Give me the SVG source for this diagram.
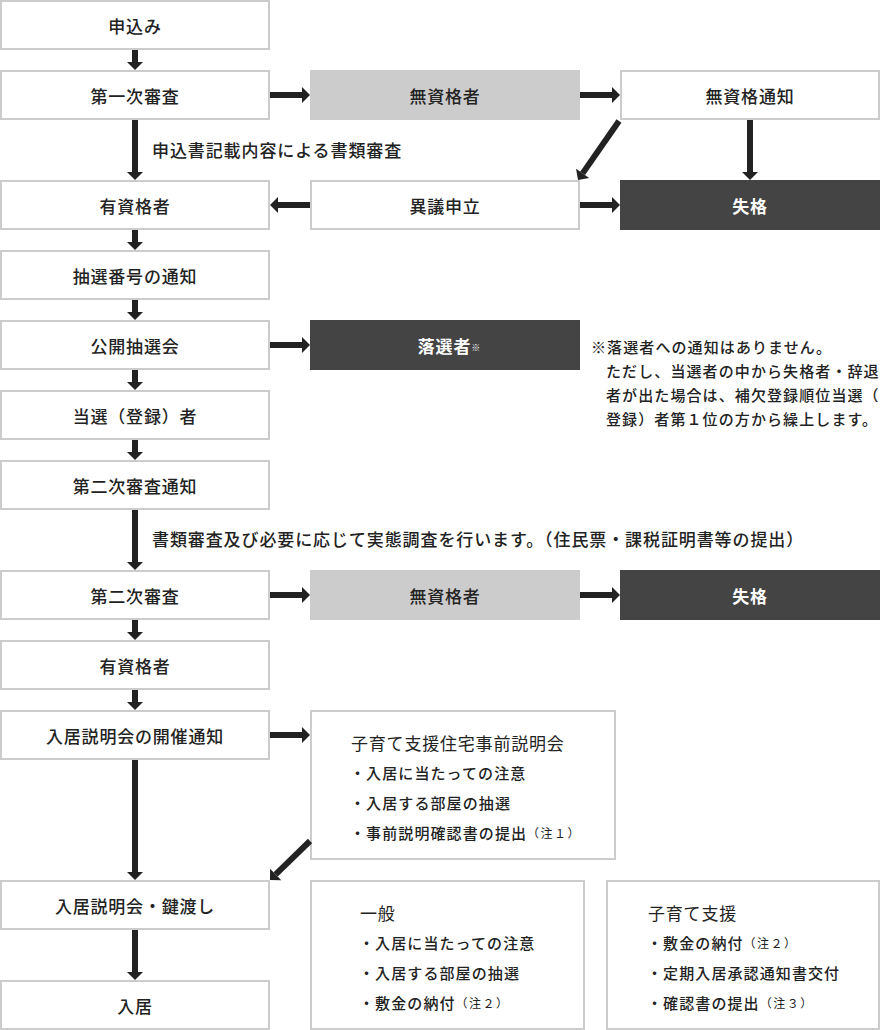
<svg xmlns="http://www.w3.org/2000/svg" width="880" height="1030" viewBox="0 0 880 1030">
<style>
text{font-family:"Noto Sans CJK JP","Noto Sans",sans-serif;fill:#222;}
.box{fill:#fff;stroke:#ccc;stroke-width:2;}
.gray{fill:#ccc;}
.dark{fill:#444;}
.lbl{font-size:17px;font-weight:500;letter-spacing:0.8px;text-anchor:middle;dominant-baseline:central;}
.wlbl{font-size:17px;font-weight:700;letter-spacing:0.8px;text-anchor:middle;dominant-baseline:central;fill:#fff;}
.note{font-size:17px;font-weight:500;letter-spacing:0.9px;dominant-baseline:central;}
.small{font-size:15px;font-weight:500;letter-spacing:1.1px;dominant-baseline:central;}
.ttl{font-size:17px;font-weight:400;letter-spacing:0.8px;dominant-baseline:central;}
.sup{font-size:12px;letter-spacing:1.5px;font-weight:400;}
.arr{stroke:#222;stroke-width:6;fill:none;marker-end:url(#ah);}
</style>
<defs>
<marker id="ah" markerUnits="userSpaceOnUse" viewBox="0 -8 8 16" refX="0" refY="0" markerWidth="8" markerHeight="16" orient="auto" overflow="visible">
<path d="M0,-8 L8,0 L0,8 Z" fill="#222"/>
</marker>
</defs>

<g id="n1"><rect class="box" x="1" y="1" width="268" height="48"/><text class="lbl" x="135" y="25">申込み</text></g>
<g id="n2"><rect class="box" x="1" y="71" width="268" height="48"/><text class="lbl" x="135" y="95">第一次審査</text></g>
<g id="n3"><rect class="box" x="1" y="181" width="268" height="48"/><text class="lbl" x="135" y="205">有資格者</text></g>
<g id="n4"><rect class="box" x="1" y="251" width="268" height="48"/><text class="lbl" x="135" y="275">抽選番号の通知</text></g>
<g id="n5"><rect class="box" x="1" y="321" width="268" height="48"/><text class="lbl" x="135" y="345">公開抽選会</text></g>
<g id="n6"><rect class="box" x="1" y="391" width="268" height="48"/><text class="lbl" x="135" y="415">当選（登録）者</text></g>
<g id="n7"><rect class="box" x="1" y="461" width="268" height="48"/><text class="lbl" x="135" y="485">第二次審査通知</text></g>
<g id="n8"><rect class="box" x="1" y="571" width="268" height="48"/><text class="lbl" x="135" y="595">第二次審査</text></g>
<g id="n9"><rect class="box" x="1" y="641" width="268" height="48"/><text class="lbl" x="135" y="665">有資格者</text></g>
<g id="n10"><rect class="box" x="1" y="711" width="268" height="48"/><text class="lbl" x="135" y="735">入居説明会の開催通知</text></g>
<g id="n11"><rect class="box" x="1" y="881" width="268" height="48"/><text class="lbl" x="135" y="905">入居説明会・鍵渡し</text></g>
<g id="n12"><rect class="box" x="1" y="981" width="268" height="48"/><text class="lbl" x="135" y="1005">入居</text></g>

<g id="m1"><rect class="gray" x="310" y="70" width="270" height="50"/><text class="lbl" x="445" y="95">無資格者</text></g>
<g id="m2"><rect class="box" x="311" y="181" width="268" height="48"/><text class="lbl" x="445" y="205">異議申立</text></g>
<g id="m3"><rect class="dark" x="310" y="320" width="270" height="50"/><text class="wlbl" x="449" y="345">落選者<tspan font-size="9px" font-weight="400" letter-spacing="0" dy="2">※</tspan></text></g>
<g id="m4"><rect class="gray" x="310" y="570" width="270" height="50"/><text class="lbl" x="445" y="595">無資格者</text></g>

<g id="r1"><rect class="box" x="621" y="71" width="258" height="48"/><text class="lbl" x="750" y="95">無資格通知</text></g>
<g id="r2"><rect class="dark" x="620" y="180" width="260" height="50"/><text class="wlbl" x="750" y="205">失格</text></g>
<g id="r3"><rect class="dark" x="620" y="570" width="260" height="50"/><text class="wlbl" x="750" y="595">失格</text></g>

<g id="note">
<text class="small" x="591" y="346">※落選者への通知はありません。</text>
<text class="small" x="606" y="370">ただし、当選者の中から失格者・辞退</text>
<text class="small" x="606" y="394">者が出た場合は、補欠登録順位当選（</text>
<text class="small" x="606" y="418">登録）者第１位の方から繰上します。</text>
</g>

<g id="b1"><rect class="box" x="311" y="711" width="304" height="148"/>
<text class="ttl" x="351" y="742">子育て支援住宅事前説明会</text>
<text class="small" x="350" y="772">・入居に当たっての注意</text>
<text class="small" x="350" y="802">・入居する部屋の抽選</text>
<text class="small" x="350" y="832">・事前説明確認書の提出<tspan class="sup">（注１）</tspan></text>
</g>
<g id="b2"><rect class="box" x="311" y="881" width="273" height="148"/>
<text class="ttl" x="360" y="912">一般</text>
<text class="small" x="359" y="942">・入居に当たっての注意</text>
<text class="small" x="359" y="972">・入居する部屋の抽選</text>
<text class="small" x="359" y="1002">・敷金の納付<tspan class="sup">（注２）</tspan></text>
</g>
<g id="b3"><rect class="box" x="607" y="881" width="272" height="148"/>
<text class="ttl" x="648" y="912">子育て支援</text>
<text class="small" x="647" y="942">・敷金の納付<tspan class="sup">（注２）</tspan></text>
<text class="small" x="647" y="972">・定期入居承認通知書交付</text>
<text class="small" x="647" y="1002">・確認書の提出<tspan class="sup">（注３）</tspan></text>
</g>

<g id="labels">
<text class="note" x="152" y="149">申込書記載内容による書類審査</text>
<text class="note" x="152" y="538">書類審査及び必要に応じて実態調査を行います。（住民票・課税証明書等の提出）</text>
</g>

<g id="connectors">
<line class="arr" x1="135" y1="50" x2="135" y2="62"/>
<line class="arr" x1="135" y1="120" x2="135" y2="172"/>
<line class="arr" x1="135" y1="230" x2="135" y2="242"/>
<line class="arr" x1="135" y1="300" x2="135" y2="312"/>
<line class="arr" x1="135" y1="370" x2="135" y2="382"/>
<line class="arr" x1="135" y1="440" x2="135" y2="452"/>
<line class="arr" x1="135" y1="510" x2="135" y2="562"/>
<line class="arr" x1="135" y1="620" x2="135" y2="632"/>
<line class="arr" x1="135" y1="690" x2="135" y2="702"/>
<line class="arr" x1="135" y1="760" x2="135" y2="872"/>
<line class="arr" x1="135" y1="930" x2="135" y2="972"/>
<line class="arr" x1="270" y1="95" x2="302" y2="95"/>
<line class="arr" x1="580" y1="95" x2="612" y2="95"/>
<line class="arr" x1="310" y1="205" x2="278" y2="205"/>
<line class="arr" x1="580" y1="205" x2="612" y2="205"/>
<line class="arr" x1="270" y1="345" x2="302" y2="345"/>
<line class="arr" x1="270" y1="595" x2="302" y2="595"/>
<line class="arr" x1="580" y1="595" x2="612" y2="595"/>
<line class="arr" x1="270" y1="735" x2="302" y2="735"/>
<line class="arr" x1="750" y1="120" x2="750" y2="172"/>
<line class="arr" x1="619" y1="121" x2="582.6" y2="173.4"/>
<line class="arr" x1="310" y1="841" x2="275.7" y2="874.4"/>
</g>
</svg>
